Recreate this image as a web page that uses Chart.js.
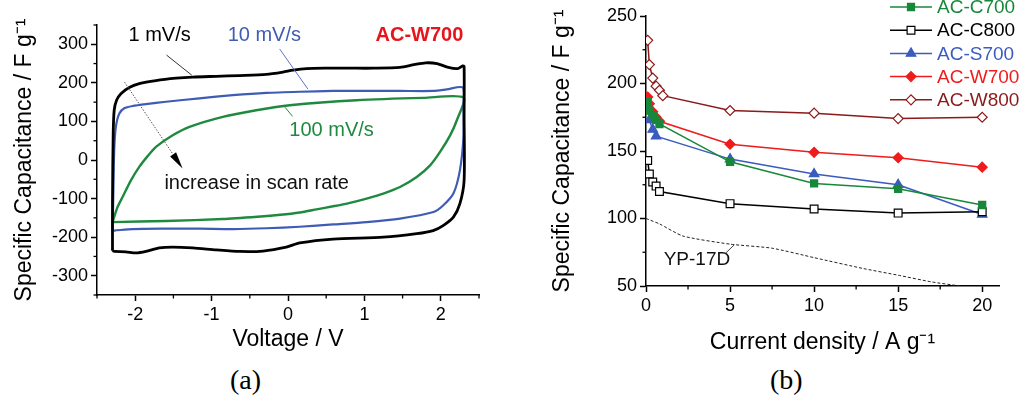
<!DOCTYPE html>
<html>
<head>
<meta charset="utf-8">
<script src="https://cdn.jsdelivr.net/npm/chart.js@4.4.0/dist/chart.umd.min.js"></script>
<style>
  html, body { margin: 0; padding: 0; background: #fff; }
  body { width: 1035px; height: 405px; position: relative; overflow: hidden; }
  canvas { position: absolute; top: 0; }
  .cap { position: absolute; font-family: "Liberation Serif", "Times New Roman", serif; font-size: 28px; color: #000; line-height: 1; }
</style>
</head>
<body>
<canvas id="cvChart" width="500" height="360" style="left:0"></canvas>
<canvas id="rateChart" width="535" height="360" style="left:500px"></canvas>
<div class="cap" style="left:230px;top:366px">(a)</div>
<div class="cap" style="left:770px;top:366px">(b)</div>
<script>
// ---- (a) cyclic voltammetry, AC-W700 ----
const cvVolt1 = [-2.297,-2.297,-2.288,-2.275,-2.244,-2.187,-2.078,-1.947,-1.728,-1.465,-1.247,-0.94,-0.634,-0.284,-0.066,0.066,0.24,0.503,0.809,1.115,1.465,1.65,1.8,1.95,2.1,2.22,2.288,2.305,2.305,2.305,2.25,2.165,2.03,1.9,1.685,1.247,0.59,0.154,-0.022,-0.328,-0.634,-0.94,-1.247,-1.509,-1.684,-1.859,-1.99,-2.122,-2.275,-2.297];
const cvCap1  = [-235,-105,68,129,155,172,188,198,206,212,215,217,219,222,228,233,237,238,238,238,240,247,252,250,240,237,244,242,112,-53,-113,-148,-170,-183,-191,-200,-205,-215,-226,-236,-237,-233,-228,-226,-228,-237,-241,-238,-237,-235];
const cvVolt10 = [-2.297,-2.288,-2.275,-2.253,-2.209,-2.143,-2.034,-1.859,-1.597,-1.159,-0.722,-0.284,0.153,0.591,1.028,1.465,1.903,2.078,2.288,2.297,2.297,2.25,2.165,2.03,1.903,1.466,1.028,0.591,0.153,-0.284,-0.722,-1.159,-1.597,-2.034,-2.275,-2.297];
const cvCap10  = [-183,-105,25,86,120,134,140,145,151,160,168,174,177,179,179,179,179,183,188,140,60,-27,-87,-118,-135,-152,-161,-167,-173,-177,-179,-178,-178,-179,-183,-183];
const cvVolt100 = [-2.297,-2.231,-2.165,-2.056,-1.947,-1.837,-1.728,-1.509,-1.29,-0.853,-0.416,0.022,0.897,1.772,2.297,2.21,2.122,1.99,1.86,1.685,1.466,1.247,1.029,0.81,0.59,0.373,0.154,-0.1,-0.4,-0.853,-1.597,-2.297];
const cvCap100  = [-161,-122,-96,-53,-18,10,34,64,86,112,129,142,155,161,162,103,64,21,-14,-44,-70,-87,-100,-111,-120,-128,-136,-142,-147,-153,-158,-161];
const cvRates = ['1 mV/s', '10 mV/s', '100 mV/s'];
const cvColors = ['#000000', '#3f5cb5', '#1f8a3f'];
const cvTicksX = [-2, -1, 0, 1, 2];
const cvTicksY = [-300, -200, -100, 0, 100, 200, 300];

// ---- (b) rate capability ----
const rateNames = ['AC-C700', 'AC-C800', 'AC-S700', 'AC-W700', 'AC-W800'];
const c700X = [0.1, 0.2, 0.4, 0.6, 0.8, 5, 10, 15, 20];
const c700Y = [187, 180, 176, 173, 170, 142, 126, 122, 110];
const c800X = [0.1, 0.2, 0.4, 0.6, 0.8, 5, 10, 15, 20];
const c800Y = [143, 133, 127, 124, 120, 111, 107, 104, 105];
const s700X = [0.1, 0.2, 0.4, 0.6, 5, 10, 15, 20];
const s700Y = [181, 173, 166, 161, 144, 133, 125, 103];
const w700X = [0.1, 0.2, 0.4, 0.6, 0.8, 5, 10, 15, 20];
const w700Y = [190, 185, 179, 175, 172, 155, 149, 145, 138];
const w800X = [0.1, 0.2, 0.4, 0.6, 0.8, 1, 5, 10, 15, 20];
const w800Y = [232, 214, 204, 198, 195, 191, 180, 178, 174, 175];
const yp17dX = [0, 0.8, 2.2, 5, 7.5, 10, 12.9, 15, 17, 18.7];
const yp17dY = [100, 96, 87, 81, 78, 71, 63, 58, 53, 50];

const pts = (xs, ys) => xs.map((x, i) => ({ x: x, y: ys[i] }));
const FONT = '"Liberation Sans", Arial, Helvetica, sans-serif';
Chart.defaults.font.family = FONT;
Chart.defaults.color = '#000';

// short outward minor ticks halfway between the major ones
const minorTicks = {
  id: 'minorTicks',
  afterDraw(chart, args, opts) {
    const ctx = chart.ctx;
    ctx.save();
    ctx.strokeStyle = '#000';
    ctx.lineWidth = 1.3;
    ['x', 'y'].forEach(id => {
      const s = chart.scales[id], half = opts[id];
      const vals = [];
      s.ticks.forEach(t => vals.push(t.value - half, t.value + half));
      vals.filter((v, i) => vals.indexOf(v) === i && v >= s.min - 1e-9 && v <= s.max + 1e-9)
        .forEach(v => {
          const p = s.getPixelForValue(v);
          ctx.beginPath();
          if (id === 'x') { ctx.moveTo(p, s.top); ctx.lineTo(p, s.top + opts.len); }
          else { ctx.moveTo(s.right, p); ctx.lineTo(s.right - opts.len, p); }
          ctx.stroke();
        });
    });
    ctx.restore();
  }
};

// labels / leader lines placed in data units
const notes = {
  id: 'notes',
  afterDatasetsDraw(chart, args, opts) {
    const ctx = chart.ctx, sx = chart.scales.x, sy = chart.scales.y;
    const px = v => sx.getPixelForValue(v), py = v => sy.getPixelForValue(v);
    ctx.save();
    (opts.items || []).forEach(it => {
      if (it.text) {
        ctx.font = (it.bold ? 'bold ' : '') + it.size + 'px ' + FONT;
        ctx.fillStyle = it.color;
        ctx.textAlign = 'center';
        ctx.textBaseline = 'middle';
        ctx.fillText(it.text, px(it.x), py(it.y));
      } else {
        const x1 = px(it.x1), y1 = py(it.y1), x2 = px(it.x2), y2 = py(it.y2);
        ctx.strokeStyle = it.color;
        ctx.lineWidth = it.width;
        ctx.setLineDash(it.dash || []);
        ctx.beginPath();
        if (it.arrow) {
          const a = Math.atan2(y2 - y1, x2 - x1), L = 17, W = 3.6;
          const bx = x2 - L * Math.cos(a), by = y2 - L * Math.sin(a);
          ctx.moveTo(x1, y1); ctx.lineTo(bx, by); ctx.stroke();
          ctx.setLineDash([]);
          ctx.fillStyle = '#000';
          ctx.beginPath();
          ctx.moveTo(x2, y2);
          ctx.lineTo(bx + W * Math.sin(a), by - W * Math.cos(a));
          ctx.lineTo(bx - W * Math.sin(a), by + W * Math.cos(a));
          ctx.closePath(); ctx.fill();
        } else {
          ctx.moveTo(x1, y1); ctx.lineTo(x2, y2); ctx.stroke();
        }
      }
    });
    ctx.restore();
  }
};

// legend rows "—marker— name"
const lineLegend = {
  id: 'lineLegend',
  afterDraw(chart, args, opts) {
    const ctx = chart.ctx;
    ctx.save();
    opts.order.forEach((di, row) => {
      const ds = chart.data.datasets[di];
      const y = opts.y + row * opts.row;
      ctx.strokeStyle = ds.borderColor;
      ctx.lineWidth = 1.5;
      ctx.beginPath();
      ctx.moveTo(opts.x, y); ctx.lineTo(opts.x + opts.len, y);
      ctx.stroke();
      ctx.fillStyle = ds.pointBackgroundColor;
      ctx.strokeStyle = ds.pointBorderColor;
      ctx.lineWidth = ds.pointBorderWidth;
      Chart.helpers.drawPoint(ctx, { pointStyle: ds.pointStyle, radius: ds.pointRadius, rotation: 0, borderWidth: ds.pointBorderWidth }, opts.x + opts.len / 2, y);
      ctx.font = opts.size + 'px ' + FONT;
      ctx.fillStyle = ds.borderColor;
      ctx.textAlign = 'left';
      ctx.textBaseline = 'middle';
      ctx.fillText(ds.label, opts.x + opts.len + 5, y + 1);
    });
    ctx.restore();
  }
};

function axis(opts) {
  return Object.assign({
    type: 'linear',
    border: { display: true, color: '#000', width: 1.5 },
    grid: { display: true, drawOnChartArea: false, drawTicks: true, tickLength: 6, tickColor: '#000', tickWidth: 1.5 },
  }, opts);
}

new Chart(document.getElementById('cvChart'), {
  type: 'scatter',
  data: {
    datasets: [
      { label: cvRates[0], data: pts(cvVolt1, cvCap1), borderColor: cvColors[0], borderWidth: 2.8 },
      { label: cvRates[1], data: pts(cvVolt10, cvCap10), borderColor: cvColors[1], borderWidth: 2.2 },
      { label: cvRates[2], data: pts(cvVolt100, cvCap100), borderColor: cvColors[2], borderWidth: 2.4 }
    ].map(d => Object.assign(d, { showLine: true, pointRadius: 0, tension: 0.25, fill: false, order: 0 }))
  },
  options: {
    responsive: false, animation: false, events: [],
    layout: { padding: { top: 25, right: 21, left: 0, bottom: 0 } },
    scales: {
      x: axis({
        min: -2.5, max: 2.5,
        afterBuildTicks: s => { s.ticks = cvTicksX.map(v => ({ value: v })); },
        ticks: { font: { size: 18 }, padding: 3, color: '#000' },
        title: { display: true, text: 'Voltage / V', color: '#000', font: { size: 23 }, padding: { top: 0, bottom: 7 } },
        afterFit: s => { s.height = 65; }
      }),
      y: axis({
        min: -350, max: 350,
        afterBuildTicks: s => { s.ticks = cvTicksY.map(v => ({ value: v })); },
        ticks: { font: { size: 18 }, padding: 3, color: '#000' },
        title: { display: true, text: 'Specific Capacitance / F g\u207B\u00B9', color: '#000', font: { size: 23 }, padding: { top: 11, bottom: 0 } },
        afterFit: s => { s.width = 97; }
      })
    },
    plugins: {
      legend: { display: false }, tooltip: { enabled: false },
      minorTicks: { x: 0.5, y: 50, len: 3.5 },
      notes: { items: [
        { text: '1 mV/s', x: -1.68, y: 322, color: '#000', size: 20 },
        { text: '10 mV/s', x: -0.31, y: 324, color: cvColors[1], size: 20 },
        { text: 'AC-W700', x: 1.72, y: 324, color: '#e8141c', size: 20, bold: true },
        { text: '100 mV/s', x: 0.57, y: 77, color: cvColors[2], size: 20 },
        { text: 'increase in scan rate', x: -0.41, y: -60, color: '#111', size: 20 },
        { x1: -1.59, y1: 272, x2: -1.26, y2: 220, color: '#333', width: 1 },
        { x1: -0.11, y1: 288, x2: 0.26, y2: 184, color: '#5a74c4', width: 1 },
        { x1: -0.04, y1: 137, x2: 0.06, y2: 113, color: cvColors[2], width: 1 },
        { x1: -2.14, y1: 202, x2: -1.38, y2: -22, color: '#555', width: 1, dash: [1.5, 1.5], arrow: true }
      ] }
    }
  },
  plugins: [minorTicks, notes]
});

const rateStyle = [
  { color: '#17883a', shape: 'rect', r: 5, bg: '#17883a' },
  { color: '#000000', shape: 'rect', r: 5.5, bg: '#ffffff' },
  { color: '#3a5bbf', shape: 'triangle', r: 5.5, bg: '#3a5bbf' },
  { color: '#ee1c1c', shape: 'rectRot', r: 5, bg: '#ee1c1c' },
  { color: '#8b1a1a', shape: 'rectRot', r: 5, bg: '#ffffff' }
];
const rateData = [pts(c700X, c700Y), pts(c800X, c800Y), pts(s700X, s700Y), pts(w700X, w700Y), pts(w800X, w800Y)];

new Chart(document.getElementById('rateChart'), {
  type: 'scatter',
  data: {
    datasets: rateNames.map((n, i) => ({
      label: n, data: rateData[i], showLine: true, tension: 0,
      borderColor: rateStyle[i].color, borderWidth: 1.5,
      pointStyle: rateStyle[i].shape, pointRadius: rateStyle[i].r,
      pointBackgroundColor: rateStyle[i].bg, pointBorderColor: rateStyle[i].color, pointBorderWidth: 1.2,
      order: 1
    })).concat([{
      label: 'YP-17D', data: pts(yp17dX, yp17dY), showLine: true, tension: 0.2,
      borderColor: '#222', borderWidth: 1, borderDash: [3, 2], pointRadius: 0, order: 2
    }])
  },
  options: {
    responsive: false, animation: false, events: [],
    layout: { padding: { top: 16, right: 36, left: 0, bottom: 0 } },
    scales: {
      x: axis({
        min: 0, max: 21,
        ticks: { stepSize: 5, includeBounds: false, font: { size: 18 }, padding: 3, color: '#000' },
        title: { display: true, text: 'Current density / A g\u207B\u00B9', color: '#000', font: { size: 23 }, padding: { top: 0, bottom: 4 } },
        afterFit: s => { s.height = 74; }
      }),
      y: axis({
        min: 50, max: 250,
        ticks: { stepSize: 50, font: { size: 18 }, padding: 3, color: '#000' },
        title: { display: true, text: 'Specific Capacitance / F g\u207B\u00B9', color: '#000', font: { size: 23 }, padding: { top: 49, bottom: 0 } },
        afterFit: s => { s.width = 146; }
      })
    },
    plugins: {
      legend: { display: false }, tooltip: { enabled: false },
      minorTicks: { x: 2.5, y: 25, len: 3.5 },
      notes: { items: [
        { text: 'YP-17D', x: 3.03, y: 69.8, color: '#111', size: 19 },
        { x1: 4.75, y1: 74.5, x2: 5.25, y2: 80.5, color: '#444', width: 1 }
      ] },
      lineLegend: { order: [0, 1, 2, 3, 4], x: 390, y: 7, row: 23.2, len: 42, size: 19 }
    }
  },
  plugins: [minorTicks, notes, lineLegend]
});
</script>
</body>
</html>
